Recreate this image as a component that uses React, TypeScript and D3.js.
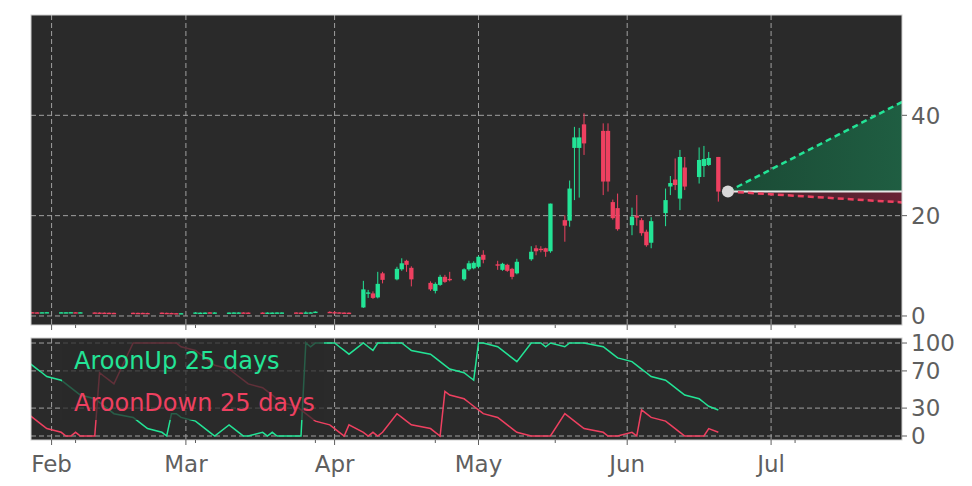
import React from "react";
import * as d3 from "d3";

// trading days (2025)
const dates = [
  "01-27", "01-28", "01-29", "01-30", "01-31",
  "02-03", "02-04", "02-05", "02-06", "02-07", "02-10", "02-11", "02-12", "02-13", "02-14",
  "02-18", "02-19", "02-20", "02-21", "02-24", "02-25", "02-26", "02-27", "02-28",
  "03-03", "03-04", "03-05", "03-06", "03-07", "03-10", "03-11", "03-12", "03-13", "03-14",
  "03-17", "03-18", "03-19", "03-20", "03-21", "03-24", "03-25", "03-26", "03-27", "03-28", "03-31",
  "04-01", "04-02", "04-03", "04-04", "04-07", "04-08", "04-09", "04-10", "04-11",
  "04-14", "04-15", "04-16", "04-17", "04-21", "04-22", "04-23", "04-24", "04-25",
  "04-28", "04-29", "04-30", "05-01", "05-02", "05-05", "05-06", "05-07", "05-08", "05-09",
  "05-12", "05-13", "05-14", "05-15", "05-16", "05-19", "05-20", "05-21", "05-22", "05-23",
  "05-27", "05-28", "05-29", "05-30", "06-02", "06-03", "06-04", "06-05", "06-06",
  "06-09", "06-10", "06-11", "06-12", "06-13", "06-16", "06-17", "06-18", "06-20",
];

const opens = [
  0.7, 0.75, 0.72, 0.66, 0.68,
  0.62, 0.68, 0.7, 0.74, 0.66, 0.7, 0.68, 0.66, 0.64, 0.62,
  0.64, 0.62, 0.62, 0.6, 0.66, 0.62, 0.6, 0.56, 0.48,
  0.56, 0.58, 0.6, 0.72, 0.56, 0.6, 0.62, 0.64, 0.7, 0.68,
  0.68, 0.6, 0.62, 0.62, 0.64, 0.7, 0.68, 0.62, 0.64, 0.66, 0.82,
  0.76, 0.72, 0.68, 0.66, 1.7, 4.5, 4.5, 3.7, 8.5,
  7.3, 9.3, 11.0, 9.6, 6.6, 5.0, 6.2, 7.8, 7.4,
  7.3, 9.3, 9.5, 9.8, 12.2, 10.3, 9.2, 10.2, 9.4, 8.5,
  11.3, 13.5, 13.4, 13.5, 12.9, 19.1, 19.0, 33.5, 33.5, 38.2,
  36.9, 36.9, 22.7, 21.5, 18.1, 20.0, 19.1, 16.8, 14.6,
  20.5, 25.8, 27.2, 23.4, 29.6, 27.7, 29.9, 30.1, 31.7,
];

const highs = [
  0.76, 0.78, 0.76, 0.78, 0.8,
  0.78, 0.78, 0.8, 0.78, 0.78, 0.74, 0.72, 0.7, 0.68, 0.66,
  0.68, 0.66, 0.66, 0.64, 0.7, 0.66, 0.64, 0.6, 0.6,
  0.74, 0.7, 0.72, 0.76, 0.74, 0.72, 0.74, 0.74, 0.74, 0.72,
  0.72, 0.72, 0.72, 0.74, 0.74, 0.74, 0.72, 0.9, 0.8, 0.92, 0.94,
  0.96, 0.76, 0.72, 0.7, 7.0, 5.2, 4.9, 8.8, 8.8,
  9.8, 11.5, 11.2, 9.9, 6.9, 6.7, 8.2, 8.2, 8.8,
  9.5, 11.0, 10.9, 12.0, 13.1, 11.0, 10.6, 10.4, 9.6, 11.4,
  13.9, 14.1, 13.9, 13.6, 22.4, 20.1, 27.0, 37.7, 37.5, 40.4,
  38.4, 38.4, 23.2, 24.4, 21.6, 24.1, 19.5, 17.2, 19.7,
  25.4, 27.9, 31.4, 33.1, 31.7, 33.6, 33.9, 32.7, 31.7,
];

const lows = [
  0.66, 0.64, 0.62, 0.63, 0.65,
  0.6, 0.66, 0.68, 0.66, 0.64, 0.62, 0.6, 0.58, 0.56, 0.54,
  0.52, 0.52, 0.51, 0.5, 0.5, 0.5, 0.48, 0.44, 0.46,
  0.54, 0.56, 0.58, 0.54, 0.54, 0.58, 0.6, 0.62, 0.6, 0.6,
  0.58, 0.58, 0.6, 0.6, 0.62, 0.62, 0.6, 0.6, 0.62, 0.64, 0.72,
  0.68, 0.64, 0.6, 0.56, 1.6, 3.6, 3.4, 3.5, 6.5,
  7.1, 9.0, 8.8, 5.9, 5.0, 4.5, 6.0, 6.6, 6.9,
  7.0, 9.0, 9.3, 9.5, 10.5, 9.2, 9.0, 8.8, 7.3, 8.3,
  11.0, 12.1, 12.7, 11.8, 12.6, 14.8, 17.8, 23.1, 23.6, 32.1,
  24.1, 24.8, 19.2, 17.0, 16.1, 18.0, 16.0, 13.8, 13.5,
  17.9, 24.1, 25.1, 21.1, 25.1, 26.4, 27.7, 29.9, 22.8,
];

const closes = [
  0.72, 0.68, 0.66, 0.74, 0.76,
  0.74, 0.74, 0.76, 0.68, 0.74, 0.64, 0.62, 0.6, 0.58, 0.56,
  0.56, 0.56, 0.55, 0.54, 0.58, 0.56, 0.52, 0.48, 0.56,
  0.7, 0.66, 0.68, 0.56, 0.7, 0.68, 0.7, 0.7, 0.62, 0.62,
  0.6, 0.68, 0.68, 0.7, 0.7, 0.64, 0.62, 0.7, 0.72, 0.86, 0.74,
  0.7, 0.66, 0.62, 0.58, 5.3, 4.7, 3.6, 6.4, 7.2,
  9.4, 10.5, 10.2, 7.3, 5.3, 6.4, 7.8, 6.8, 7.2,
  9.3, 10.5, 10.6, 11.8, 11.2, 10.1, 10.4, 9.0, 7.8, 10.8,
  12.8, 12.9, 13.2, 12.8, 22.4, 18.0, 25.4, 35.6, 35.6, 34.4,
  26.8, 26.8, 19.5, 17.3, 19.8, 19.6, 16.5, 14.1, 18.9,
  23.1, 26.5, 26.1, 31.7, 25.8, 31.1, 31.3, 31.5, 24.8,
];

const aroonUp = [
  80, 76, 72, 68, 64,
  60, 56, 52, 48, 44, 40, 36, 32, 28, 24,
  20, 16, 12, 8, 4, 0, 24, 24, 20,
  16, 12, 8, 4, 0, 12, 8, 4, 0, 0,
  4, 0, 4, 0, 0, 0, 0, 100, 96, 100, 100,
  100, 96, 92, 88, 100, 96, 92, 100, 100,
  100, 100, 96, 92, 88, 84, 80, 76, 72,
  68, 64, 60, 100, 100, 96, 92, 88, 84, 80,
  100, 100, 100, 96, 100, 96, 100, 100, 100, 100,
  96, 92, 88, 84, 80, 76, 72, 68, 64,
  60, 56, 52, 48, 44, 40, 36, 32, 28,
];

const aroonDown = [
  24, 20, 16, 12, 8,
  4, 0, 0, 4, 0, 0, 68, 64, 60, 56,
  100, 100, 100, 100, 100, 100, 100, 100, 96,
  92, 88, 84, 80, 76, 72, 68, 64, 60, 56,
  52, 48, 44, 40, 36, 32, 28, 24, 20, 16, 12,
  8, 4, 0, 12, 4, 0, 4, 0, 4,
  24, 20, 16, 12, 8, 4, 0, 48, 44,
  40, 36, 32, 28, 24, 20, 16, 12, 8, 4,
  0, 0, 0, 0, 0, 24, 20, 16, 12, 8,
  4, 0, 0, 0, 4, 0, 28, 24, 20,
  16, 12, 8, 4, 0, 0, 0, 8, 4,
];

// projection cone
const forecastDates = ["06-22", "07-29"];
const forecastUpper = [24.8, 43.0];
const forecastLower = [24.8, 22.6];

const priceTicks = [0, 20, 40];
const aroonTicks = [0, 30, 70, 100];
const minorTickDates = ["02-06", "03-03", "03-28", "04-22", "05-17", "06-11", "07-06"];

const GREEN = "#23e496";
const RED = "#ee4060";
const PANEL = "#2a2a2a";
const GRID = "#a0a0a0";
const LABEL = "#5f5f5f";
const FONT = "DejaVu Sans";

const parse = (s: string) => d3.utcParse("%Y-%m-%d")("2025-" + s) as Date;

export default function App() {
  const left = 31;
  const right = 902;
  const main = { top: 15, bottom: 325 };
  const sub = { top: 338, bottom: 440 };

  const x = d3
    .scaleUtc()
    .domain([new Date(Date.UTC(2025, 0, 27, 17)), new Date(Date.UTC(2025, 6, 28, 7))])
    .range([left, right]);
  const y = d3.scaleLinear().domain([-1.8, 60]).range([main.bottom, main.top]);
  const ya = d3.scaleLinear().domain([-4.3, 105.4]).range([sub.bottom, sub.top]);

  const days = dates.map(parse);
  const months = d3.utcMonth.range(new Date(Date.UTC(2025, 1, 1)), new Date(Date.UTC(2025, 7, 1)));
  const minors = minorTickDates.map(parse);
  const fmt = d3.utcFormat("%b");
  const bw = (x(days[2]) - x(days[1])) * 0.9;

  const aroonLine = d3
    .line<number>()
    .x((_, i) => x(days[i]))
    .y((d) => ya(d));

  const fd = forecastDates.map(parse);
  const fx0 = x(fd[0]);
  const fx1 = x(fd[1]);
  const base = y(forecastUpper[0]);

  return (
    <svg
      width={972}
      height={486}
      style={{ position: "absolute", left: 0, top: 0, background: "#fff" }}
      fontFamily={FONT}
    >
      <defs>
        <clipPath id="mainClip">
          <rect x={left} y={main.top} width={right - left} height={main.bottom - main.top} />
        </clipPath>
        <clipPath id="subClip">
          <rect x={left} y={sub.top} width={right - left} height={sub.bottom - sub.top} />
        </clipPath>
        <linearGradient id="upFill" x1="0" x2="1" y1="0" y2="0">
          <stop offset="0" stopColor="#1b4a35" />
          <stop offset="1" stopColor="#1f5e42" />
        </linearGradient>
        <linearGradient id="dnFill" x1="0" x2="1" y1="0" y2="0">
          <stop offset="0" stopColor="#3e2329" />
          <stop offset="1" stopColor="#6a2236" />
        </linearGradient>
      </defs>

      {/* main panel */}
      <rect x={left} y={main.top} width={right - left} height={main.bottom - main.top} fill={PANEL} />
      {months.map((m) => (
        <line key={"mg" + m.getTime()} x1={x(m)} x2={x(m)} y1={main.top} y2={main.bottom}
          stroke={GRID} strokeDasharray="5,3" strokeWidth={1} />
      ))}
      {priceTicks.map((t) => (
        <line key={"pg" + t} x1={left} x2={right} y1={y(t)} y2={y(t)}
          stroke={GRID} strokeDasharray="5,3" strokeWidth={1} />
      ))}

      <g clipPath="url(#mainClip)">
        {days.map((d, i) => {
          const up = closes[i] >= opens[i];
          const c = up ? GREEN : RED;
          const cx = x(d);
          const top = y(Math.max(opens[i], closes[i]));
          const bot = y(Math.min(opens[i], closes[i]));
          return (
            <g key={"c" + i}>
              <line x1={cx} x2={cx} y1={y(highs[i])} y2={y(lows[i])} stroke={c} strokeWidth={1} />
              <rect x={cx - bw / 2} y={top} width={bw} height={Math.max(1.4, bot - top)} fill={c} />
            </g>
          );
        })}

        <polygon
          points={`${fx0},${base} ${fx1},${y(forecastUpper[1])} ${fx1},${base}`}
          fill="url(#upFill)"
        />
        <polygon
          points={`${fx0},${base} ${fx1},${y(forecastLower[1])} ${fx1},${base}`}
          fill="url(#dnFill)"
        />
        <line x1={fx0} x2={fx1} y1={base} y2={base} stroke="#e8e8e8" strokeWidth={2} />
        <line x1={fx0} x2={fx1} y1={base} y2={y(forecastUpper[1])} stroke={GREEN}
          strokeWidth={2.5} strokeDasharray="6,4" />
        <line x1={fx0} x2={fx1} y1={base} y2={y(forecastLower[1])} stroke={RED}
          strokeWidth={2.5} strokeDasharray="6,4" />
        <circle cx={fx0} cy={base} r={6} fill="#d8d8d8" />
      </g>
      <rect x={left} y={main.top} width={right - left} height={main.bottom - main.top}
        fill="none" stroke="#cfcfcf" strokeWidth={1} />

      {priceTicks.map((t) => (
        <g key={"pt" + t}>
          <line x1={right} x2={right + 5} y1={y(t)} y2={y(t)} stroke={LABEL} />
          <text x={right + 9} y={y(t)} dy="0.36em" fontSize={23} fill={LABEL}>{t}</text>
        </g>
      ))}
      {months.map((m) => (
        <line key={"mt" + m.getTime()} x1={x(m)} x2={x(m)} y1={main.bottom} y2={main.bottom + 5} stroke={LABEL} />
      ))}
      {minors.map((m) => (
        <line key={"nt" + m.getTime()} x1={x(m)} x2={x(m)} y1={main.bottom} y2={main.bottom + 3} stroke={LABEL} />
      ))}

      {/* aroon panel */}
      <rect x={left} y={sub.top} width={right - left} height={sub.bottom - sub.top} fill={PANEL} />
      {months.map((m) => (
        <line key={"sg" + m.getTime()} x1={x(m)} x2={x(m)} y1={sub.top} y2={sub.bottom}
          stroke={GRID} strokeDasharray="5,3" strokeWidth={1} />
      ))}
      {aroonTicks.map((t) => (
        <line key={"ag" + t} x1={left} x2={right} y1={ya(t)} y2={ya(t)}
          stroke={GRID} strokeDasharray="5,3" strokeWidth={1} />
      ))}
      <g clipPath="url(#subClip)">
        <path d={aroonLine(aroonUp) ?? ""} fill="none" stroke={GREEN} strokeWidth={1.5} />
        <path d={aroonLine(aroonDown) ?? ""} fill="none" stroke={RED} strokeWidth={1.5} />
      </g>
      <rect x={62} y={342} width={262} height={78} fill={PANEL} opacity={0.72} />
      <text x={74} y={369} fontSize={24} fill={GREEN}>AroonUp 25 days</text>
      <text x={74} y={411} fontSize={24} fill={RED}>AroonDown 25 days</text>
      <rect x={left} y={sub.top} width={right - left} height={sub.bottom - sub.top}
        fill="none" stroke="#cfcfcf" strokeWidth={1} />

      {aroonTicks.map((t) => (
        <g key={"at" + t}>
          <line x1={right} x2={right + 5} y1={ya(t)} y2={ya(t)} stroke={LABEL} />
          <text x={right + 9} y={ya(t)} dy="0.36em" fontSize={23} fill={LABEL}>{t}</text>
        </g>
      ))}
      {months.map((m) => (
        <g key={"xl" + m.getTime()}>
          <line x1={x(m)} x2={x(m)} y1={sub.bottom} y2={sub.bottom + 5} stroke={LABEL} />
          <text x={x(m)} y={472} textAnchor="middle" fontSize={23} fill={LABEL}>{fmt(m)}</text>
        </g>
      ))}
      {minors.map((m) => (
        <line key={"sn" + m.getTime()} x1={x(m)} x2={x(m)} y1={sub.bottom} y2={sub.bottom + 3} stroke={LABEL} />
      ))}
    </svg>
  );
}
